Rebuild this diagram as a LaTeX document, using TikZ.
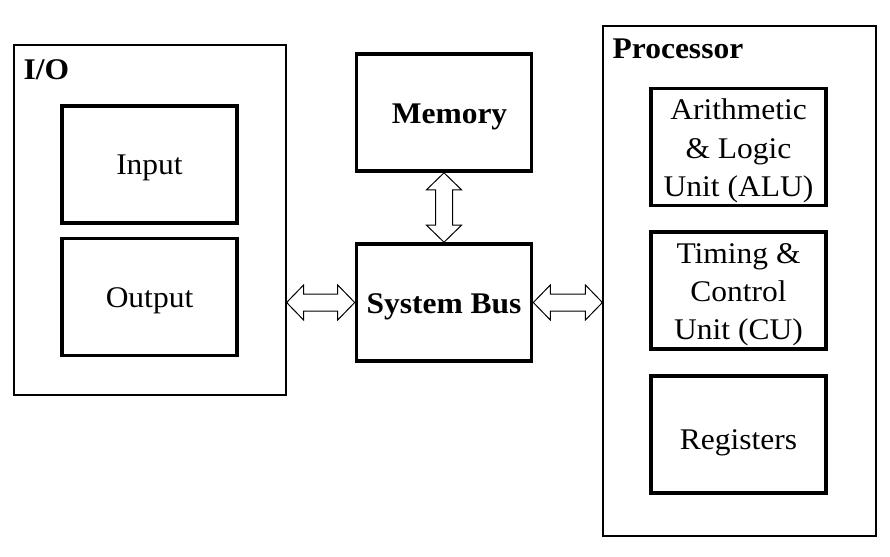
\documentclass[tikz,border=0pt]{standalone}
\usepackage{fontspec}
\setmainfont{Liberation Serif}[FakeStretch=1.05]
\usetikzlibrary{calc, positioning}
\newcommand{\boxfont}{\fontsize{30pt}{38pt}\selectfont}
\tikzset{
  unit/.style={draw, line width=3.6pt, minimum width=175pt, minimum height=117pt, inner sep=0pt, align=center},
  oneline/.style={text height=20pt, text depth=0pt},
  threelines/.style={text height=98pt, text depth=0pt},
  group/.style={draw, line width=1.2pt, inner sep=0pt},
  title/.style={font=\boxfont\bfseries, anchor=base west, inner sep=0pt},
  fatarrow/.style={draw, line width=1pt, fill=white, line join=miter}
}
% hollow double-headed block arrow between two points
\newcommand{\busarrow}[2]{%
  \draw[fatarrow] let \p1=(#1), \p2=(#2),
    \n1={atan2(\y2-\y1,\x2-\x1)}, \n2={veclen(\x2-\x1,\y2-\y1)} in
    [shift={(\p1)}, rotate=\n1]
    (0,0) -- (17,17.5) -- (17,8.5) -- (\n2-17,8.5) -- (\n2-17,17.5) -- (\n2,0)
    -- (\n2-17,-17.5) -- (\n2-17,-8.5) -- (17,-8.5) -- (17,-17.5) -- cycle;}

\begin{document}
\begin{tikzpicture}[x=1pt, y=-1pt, font=\boxfont]
		\useasboundingbox (0,0) rectangle (890,556);

		% I/O side
		\node[group, minimum width=272pt, minimum height=350pt] (io) at (150,220) {};
		\node[title] (iotitle) at ([xshift=10pt, yshift=-35pt]io.north west) {I/O};
		\node[unit, oneline] (input) at (149.5,164.5) {Input};
		\node[unit, oneline, below=12pt of input] (output) {Output};

		% middle column
		\node[unit, oneline, text height=22pt, font=\boxfont\bfseries] (mem) at (444,112.5) {\hspace{11pt}Memory};
		\node[unit, oneline, text height=21pt, font=\boxfont\bfseries] (bus) at (444,302.5) {System Bus};

		% processor side
		\node[group, minimum width=273pt, minimum height=510pt] (cpu) at (739.5,281) {};
		\node[title] (cputitle) at ([xshift=10pt, yshift=-33pt]cpu.north west) {Processor};
		\node[unit, threelines] (alu) at (738.5,147) {Arithmetic\\ \& Logic\\ Unit (ALU)};
		\node[unit, threelines, below=23pt of alu] (cu) {Timing \&\\ Control\\ Unit (CU)};
		\node[unit, oneline, text height=30pt, below=23pt of cu] (reg) {Registers};

		\busarrow{io.east |- bus.west}{bus.west}
		\busarrow{bus.east}{cpu.west |- bus.east}
		\busarrow{mem.south}{bus.north}

	\end{tikzpicture}
\end{document}
